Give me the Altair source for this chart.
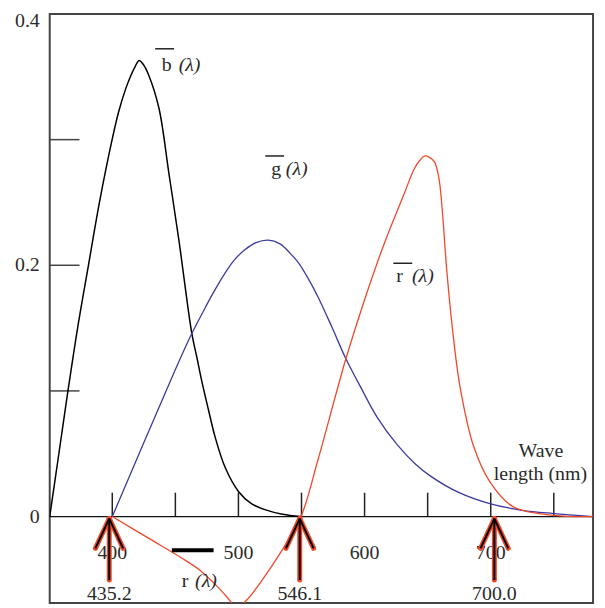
import altair as alt
import pandas as pd

# ---------------- data ----------------
b_wl = [350.4, 357.5, 364.8, 372.5, 381.1, 390.0, 399.0, 405.0, 410.8, 414.9, 418.0, 421.3, 424.5, 428.8, 437.0, 444.9, 452.8, 463.0, 467.0, 470.9, 476.0, 481.6, 489.5, 500.0, 510.0, 521.0, 535.0, 549.6]
b_val = [0.0, 0.049, 0.0996, 0.150, 0.200, 0.251, 0.296, 0.322, 0.341, 0.3515, 0.358, 0.363, 0.360, 0.3515, 0.325, 0.273, 0.220, 0.146, 0.127, 0.108, 0.086, 0.063, 0.039, 0.020, 0.0105, 0.0055, 0.0018, 0.0]

g_wl = [400.0, 450.0, 462.0, 472.0, 480.0, 489.5, 497.0, 505.3, 514.0, 523.6, 533.0, 541.0, 547.2, 555.0, 563.0, 574.0, 585.0, 596.9, 610.0, 626.0, 640.0, 652.0, 675.0, 699.2, 725.0, 749.6, 781.0]
g_val = [0.0, 0.117, 0.1435, 0.163, 0.178, 0.194, 0.2045, 0.2125, 0.218, 0.220, 0.217, 0.2095, 0.2025, 0.190, 0.175, 0.151, 0.126, 0.103, 0.079, 0.057, 0.042, 0.0324, 0.019, 0.0103, 0.005, 0.0024, 0.0]

r_wl = [400.0, 429.0, 455.0, 468.5, 481.6, 490.0, 499.0, 507.0, 516.0, 534.0, 549.6, 563.0, 578.7, 585.3, 599.8, 615.5, 631.3, 639.2, 643.7, 647.8, 654.9, 658.8, 661.4, 665.4, 670.6, 675.8, 686.3, 699.5, 717.9, 749.9, 781.0]
r_val = [0.0, -0.0174, -0.033, -0.042, -0.054, -0.063, -0.072, -0.066, -0.0545, -0.0277, 0.0, 0.045, 0.1025, 0.126, 0.172, 0.217, 0.2567, 0.2764, 0.2834, 0.287, 0.283, 0.270, 0.246, 0.193, 0.141, 0.1025, 0.0564, 0.0274, 0.0077, 0.001, 0.0]

x_tick_nm = [400, 450, 500, 550, 600, 650, 700, 750]
x_label_nm = [400, 500, 600, 700]
x_label_txt = ["400", "500", "600", "700"]
y_label_vals = [0.0, 0.2]
y_label_txt = ["0", "0.2"]
y_top_val = [0.4]
y_top_txt = ["0.4"]
y_tick_vals = [0.1, 0.2, 0.3]

arrow_nm = [397.6, 548.6, 702.9]
arrow_txt = ["435.2", "546.1", "700.0"]

X_DOMAIN = [350.4, 781.1]
Y_DOMAIN = [-0.0688, 0.4]

FONT = "Liberation Serif"
TXT = "#2a2a2a"
FS = 20

xs = alt.Scale(domain=X_DOMAIN, nice=False, zero=False)
ys = alt.Scale(domain=Y_DOMAIN, nice=False, zero=False)


def X(f):
    return alt.X(f, type="quantitative", scale=xs, axis=None)


def Y(f):
    return alt.Y(f, type="quantitative", scale=ys, axis=None)


def curve(wl, val, color, w):
    df = pd.DataFrame({"wl": wl, "val": val})
    return alt.Chart(df).mark_line(color=color, strokeWidth=w, interpolate="catmull-rom", clip=True).encode(
        x=X("wl"), y=Y("val"))


layers = []

# zero line
layers.append(alt.Chart(pd.DataFrame({"y": [0.0]})).mark_rule(color="#111", strokeWidth=1.3).encode(y=Y("y")))

# x ticks (pointing up from the zero line)
xt = pd.DataFrame({"nm": x_tick_nm, "y0": [0.0] * len(x_tick_nm), "y1": [0.019] * len(x_tick_nm)})
layers.append(alt.Chart(xt).mark_rule(color="#222", strokeWidth=1.5).encode(x=X("nm"), y=Y("y0"), y2=alt.Y2("y1")))

# y ticks (pointing right from the left frame)
yt = pd.DataFrame({"v": y_tick_vals, "x0": [X_DOMAIN[0]] * 3, "x1": [374.0] * 3})
layers.append(alt.Chart(yt).mark_rule(color="#444", strokeWidth=1.5).encode(y=Y("v"), x=X("x0"), x2=alt.X2("x1")))

# curves
layers.append(curve(b_wl, b_val, "#000000", 1.5))
layers.append(curve(g_wl, g_val, "#3a3a9e", 1.3))
layers.append(curve(r_wl, r_val, "#f0482a", 1.3))

# y labels
yl = pd.DataFrame({"v": y_label_vals, "t": y_label_txt})
layers.append(alt.Chart(yl).mark_text(font=FONT, fontSize=FS, color=TXT, align="right", baseline="middle").encode(
    x=alt.value(-10), y=Y("v"), text="t:N"))
ytop = pd.DataFrame({"v": y_top_val, "t": y_top_txt})
layers.append(alt.Chart(ytop).mark_text(font=FONT, fontSize=FS, color=TXT, align="right", baseline="middle", dy=7).encode(
    x=alt.value(-10), y=Y("v"), text="t:N"))

# x labels
xl = pd.DataFrame({"nm": x_label_nm, "t": x_label_txt, "y": [-0.0292] * 4})
layers.append(alt.Chart(xl).mark_text(font=FONT, fontSize=FS, color=TXT, baseline="middle").encode(
    x=X("nm"), y=Y("y"), text="t:N"))

# arrows: red outline under black strokes
tip = -0.0016
segs = []
for a in arrow_nm:
    segs.append({"x0": a, "y0": tip, "x1": a - 11.0, "y1": tip - 0.0237})
    segs.append({"x0": a, "y0": tip, "x1": a + 11.0, "y1": tip - 0.0237})
    segs.append({"x0": a, "y0": tip, "x1": a, "y1": tip - 0.049})
sdf = pd.DataFrame(segs)
layers.append(alt.Chart(sdf).mark_rule(color="#f0482a", strokeWidth=5, strokeCap="round").encode(
    x=X("x0"), y=Y("y0"), x2=alt.X2("x1"), y2=alt.Y2("y1")))
layers.append(alt.Chart(sdf).mark_rule(color="#000", strokeWidth=2).encode(
    x=X("x0"), y=Y("y0"), x2=alt.X2("x1"), y2=alt.Y2("y1")))

# arrow labels
al = pd.DataFrame({"nm": arrow_nm, "t": arrow_txt, "y": [-0.0613] * 3})
layers.append(alt.Chart(al).mark_text(font=FONT, fontSize=FS, color=TXT, baseline="middle").encode(
    x=X("nm"), y=Y("y"), text="t:N"))

# small black bar near "500"
bar = pd.DataFrame({"x0": [447.2], "x1": [480.3], "y": [-0.0269]})
layers.append(alt.Chart(bar).mark_rule(color="#000", strokeWidth=4).encode(x=X("x0"), x2=alt.X2("x1"), y=Y("y")))

# curve labels: letter upright, (λ) italic
lab = pd.DataFrame({
    "x": [439.2, 526.0, 625.2, 455.1],
    "y": [0.355, 0.272, 0.1866, -0.0561],
    "t": ["b", "g", "r", "r"],
})
lam = pd.DataFrame({
    "x": [452.6, 537.6, 637.6, 465.6],
    "y": [0.355, 0.272, 0.1866, -0.0561],
    "t": ["(λ)", "(λ)", "(λ)", "(λ)"],
})
layers.append(alt.Chart(lab).mark_text(font=FONT, fontSize=FS, color=TXT, align="left", baseline="alphabetic").encode(
    x=X("x"), y=Y("y"), text="t:N"))
layers.append(alt.Chart(lam).mark_text(font=FONT, fontSize=FS, fontStyle="italic", color=TXT, align="left",
                                       baseline="alphabetic").encode(x=X("x"), y=Y("y"), text="t:N"))

# overlines
ov = pd.DataFrame({"x0": [434.0, 521.3, 622.8], "x1": [449.0, 536.2, 637.8], "y": [0.3723, 0.287, 0.2016]})
layers.append(alt.Chart(ov).mark_rule(color="#222", strokeWidth=1.5).encode(x=X("x0"), x2=alt.X2("x1"), y=Y("y")))

# wavelength label
wv = pd.DataFrame({"x": [739.8, 739.4], "y": [0.0474, 0.0292], "t": ["Wave", "length (nm)"]})
layers.append(alt.Chart(wv).mark_text(font=FONT, fontSize=FS, color=TXT, align="center", baseline="alphabetic").encode(
    x=X("x"), y=Y("y"), text="t:N"))

chart = alt.layer(*layers).properties(
    width=547, height=593,
    autosize=alt.AutoSizeParams(type="none"),
    padding={"left": 42, "top": 4, "right": 4, "bottom": 2},
).configure_view(stroke="#444", strokeWidth=2)

chart.save("out.html", embed_options={"renderer": "svg", "actions": False})
